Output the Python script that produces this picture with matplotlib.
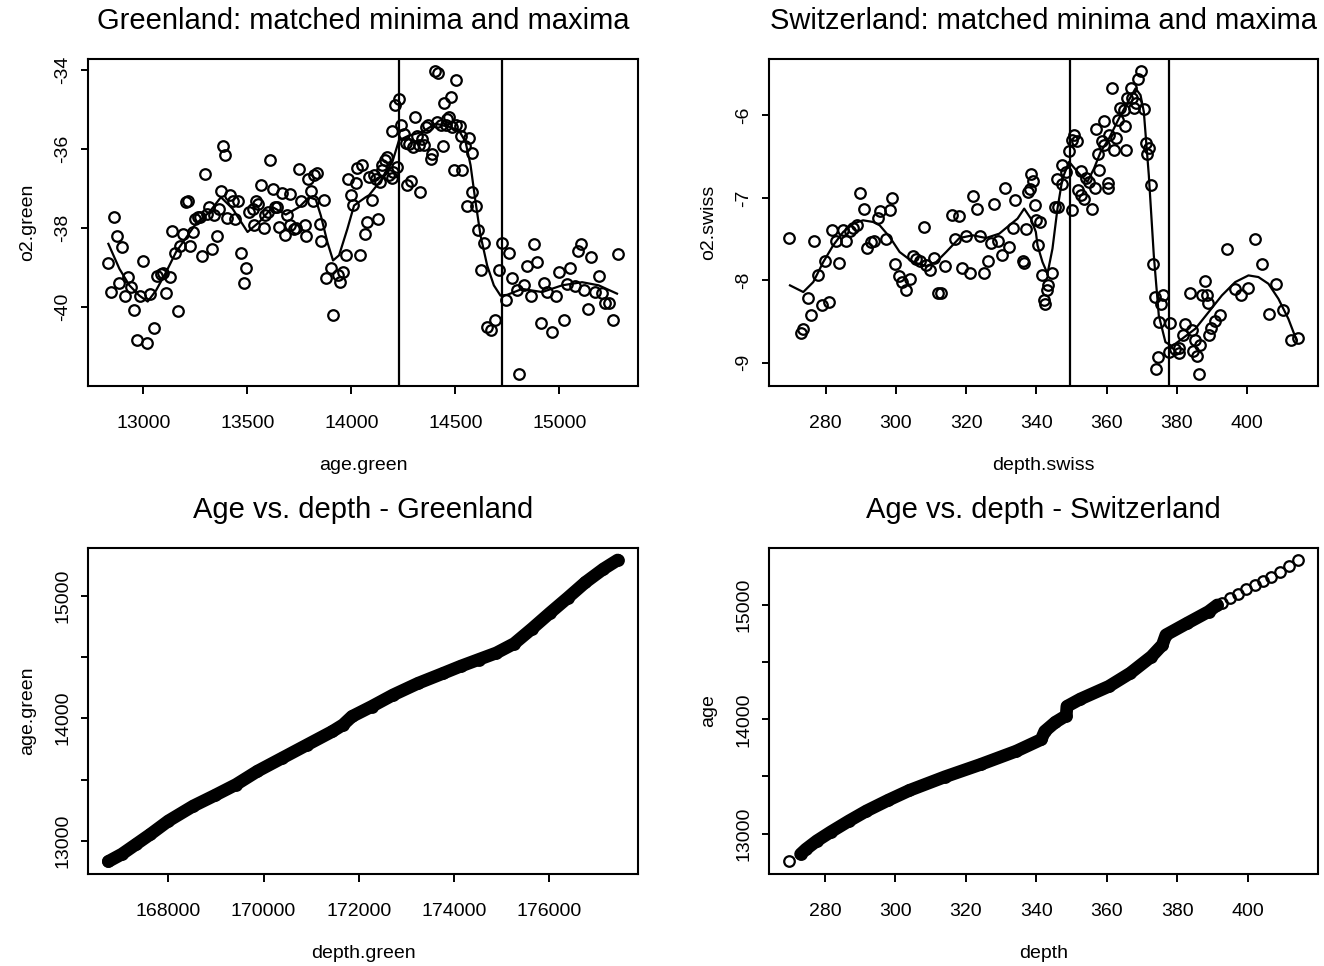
import numpy as np
import matplotlib
matplotlib.use("Agg")
import matplotlib.pyplot as plt

plt.rcParams['font.family'] = ['Liberation Sans', 'DejaVu Sans']
plt.rcParams['axes.xmargin'] = 0.04
plt.rcParams['axes.ymargin'] = 0.04

# ---------------- Greenland: oxygen isotope vs age ----------------
green_age = [12832, 12859, 12872, 12896, 12847, 12883, 12927, 12912, 12943, 12957,
             12970, 12984, 13018, 13000, 13034, 13051, 13067, 13083, 13096, 13111,
             13128, 13139, 13167, 13151, 13178, 13191, 13205, 13213, 13226, 13239,
             13247, 13263, 13274, 13283, 13295, 13304, 13315, 13330, 13341, 13352,
             13365, 13373, 13383, 13395, 13403, 13419, 13429, 13439, 13453, 13469,
             13495, 13483, 13509, 13525, 13541, 13533, 13551, 13567, 13579, 13586,
             13597, 13610, 13621, 13631, 13645, 13653, 13669, 13679, 13691, 13703,
             13704, 13722, 13733, 13746, 13757, 13775, 13781, 13792, 13807, 13821,
             13834, 13818, 13850, 13856, 13869, 13880, 13901, 13911, 13936, 13944,
             13959, 13975, 13984, 13999, 14010, 14021, 14029, 14051, 14043, 14066,
             14077, 14098, 14130, 14085, 14109, 14120, 14136, 14149, 14162, 14173,
             14146, 14181, 14194, 14200, 14221, 14194, 14210, 14229, 14237, 14253,
             14261, 14269, 14285, 14277, 14296, 14306, 14317, 14325, 14330, 14341,
             14349, 14357, 14370, 14381, 14389, 14400, 14418, 14413, 14429, 14442,
             14445, 14453, 14461, 14477, 14469, 14485, 14493, 14501, 14504, 14520,
             14525, 14533, 14544, 14565, 14578, 14581, 14554, 14600, 14608, 14637,
             14621, 14653, 14669, 14690, 14709, 14722, 14741, 14757, 14773, 14797,
             14829, 14845, 14864, 14877, 14893, 14912, 14925, 14941, 14965, 14986,
             15000, 15021, 15037, 15053, 15077, 15088, 15104, 15120, 15136, 15152,
             15170, 15189, 15205, 15218, 15237, 15258, 15280, 14808]
green_o2 = [-38.89, -37.73, -38.21, -38.49, -39.63, -39.40, -39.24, -39.72, -39.49, -40.08,
            -40.84, -39.73, -40.91, -38.85, -39.68, -40.54, -39.22, -39.17, -39.14, -39.65,
            -39.26, -38.08, -40.10, -38.64, -38.47, -38.16, -37.35, -37.33, -38.47, -38.11,
            -37.79, -37.72, -37.72, -38.71, -36.65, -37.65, -37.48, -38.54, -37.67, -38.22,
            -37.54, -37.07, -35.94, -36.17, -37.76, -37.18, -37.33, -37.79, -37.33, -38.64,
            -39.02, -39.40, -37.61, -37.54, -37.32, -37.94, -37.41, -36.91, -38.00, -37.69,
            -37.61, -36.30, -37.02, -37.48, -37.48, -37.99, -37.12, -38.18, -37.69, -37.14,
            -37.94, -38.03, -38.00, -36.51, -37.33, -37.94, -38.20, -36.78, -37.07, -36.68,
            -36.61, -37.32, -37.90, -38.34, -37.29, -39.27, -39.01, -40.21, -39.21, -39.38,
            -39.13, -38.69, -36.76, -37.17, -37.43, -36.86, -36.48, -36.42, -38.70, -38.15,
            -37.86, -37.31, -37.77, -36.72, -36.68, -36.76, -36.85, -36.42, -36.30, -36.21,
            -36.55, -36.68, -36.75, -36.59, -36.47, -35.56, -34.91, -34.74, -35.41, -35.62,
            -35.85, -36.93, -36.83, -35.88, -35.96, -35.20, -35.67, -35.92, -37.10, -35.75,
            -35.92, -35.45, -35.41, -36.26, -36.13, -34.04, -34.08, -35.33, -35.40, -35.94,
            -34.84, -35.41, -35.24, -34.69, -35.20, -35.45, -36.55, -35.41, -34.26, -35.43,
            -35.67, -36.55, -35.94, -35.73, -36.11, -37.10, -37.46, -37.44, -38.07, -38.38,
            -39.08, -40.52, -40.60, -40.33, -39.08, -38.38, -39.83, -38.64, -39.28, -39.59,
            -39.45, -38.98, -39.74, -38.42, -38.87, -40.42, -39.40, -39.63, -40.63, -39.73,
            -39.13, -40.33, -39.42, -39.01, -39.48, -38.60, -38.42, -39.59, -40.07, -38.75,
            -39.63, -39.23, -39.65, -39.91, -39.91, -40.33, -38.66, -41.70]

green_fit_age = [12832, 12885, 12933, 12981, 13021, 13061, 13109, 13157, 13205, 13253,
                 13317, 13373, 13429, 13501, 13557, 13621, 13685, 13749, 13797, 13829,
                 13853, 13885, 13912, 13941, 13981, 14013, 14069, 14085, 14149, 14197,
                 14229, 14277, 14341, 14405, 14469, 14517, 14549, 14573, 14597, 14621,
                 14653, 14685, 14717, 14749, 14821, 14917, 15013, 15109, 15189, 15277]
green_fit_o2 = [-38.41, -39.04, -39.46, -39.72, -39.87, -39.59, -39.13, -38.62, -38.26, -37.90,
                -37.61, -37.23, -37.52, -38.11, -37.86, -37.48, -37.67, -37.48, -37.23, -37.29,
                -37.69, -38.37, -38.83, -38.70, -38.03, -37.44, -37.23, -37.18, -36.76, -36.34,
                -35.79, -35.67, -35.58, -35.37, -35.45, -35.54, -35.83, -36.42, -37.35, -38.20,
                -38.96, -39.46, -39.72, -39.70, -39.55, -39.63, -39.46, -39.38, -39.46, -39.67]
green_marks = [14231, 14723]

# ---------------- Switzerland: oxygen isotope vs depth ----------------
swiss_depth = [269.68, 272.90, 273.65, 275.73, 274.88, 277.91, 278.85, 280.93, 279.80, 276.77,
               281.88, 283.01, 283.77, 285.00, 285.95, 286.89, 287.84, 288.97, 289.92, 290.96,
               291.81, 293.04, 293.70, 294.93, 295.59, 297.10, 298.24, 298.99, 299.85, 300.89,
               301.83, 302.78, 303.91, 304.86, 305.80, 306.75, 307.88, 308.45, 309.77, 310.91,
               312.04, 312.71, 314.03, 315.92, 316.87, 317.91, 318.85, 319.99, 321.12, 322.07,
               323.01, 323.96, 325.00, 326.13, 327.08, 328.02, 328.97, 330.11, 331.05, 332.09,
               333.23, 333.98, 336.06, 336.35, 337.01, 337.58, 338.14, 338.43, 339.09, 339.66,
               340.03, 340.60,
               340.99, 341.55, 344.58, 343.44, 342.88, 342.21, 342.50, 345.34, 346.28, 346.00,
               347.23, 347.42, 348.36, 349.31, 350.06, 350.73, 351.67, 350.06, 352.62, 351.95,
               352.62, 353.56, 354.22, 354.98, 355.93, 356.68, 357.82, 357.63, 356.87, 358.57,
               359.24, 359.24, 360.37, 360.47, 360.66, 361.60, 362.07, 362.73, 363.30, 363.68,
               364.91, 365.19, 365.57, 365.86, 366.80, 367.27, 367.75, 368.41, 368.88, 369.64,
               370.58, 371.06, 371.53, 372.19, 372.66, 373.14, 373.70, 375.60, 375.97, 375.03,
               374.65, 374.08, 378.15, 377.67, 379.57, 380.51, 380.70, 381.65, 382.40, 383.82,
               384.29, 384.48, 385.24, 385.71, 386.19, 386.66, 387.13, 387.89, 388.55, 388.83,
               389.02, 389.78, 390.91, 392.25, 394.32, 396.40, 398.20, 400.37, 402.26, 404.15,
               406.23, 408.12, 410.30, 412.47, 414.37]
swiss_o2 = [-7.488, -8.643, -8.598, -8.428, -8.213, -7.942, -8.298, -8.266, -7.767, -7.524,
            -7.394, -7.524, -7.792, -7.394, -7.524, -7.406, -7.366, -7.334, -6.936, -7.131,
            -7.609, -7.536, -7.524, -7.244, -7.163, -7.504, -7.143, -7.001, -7.800, -7.950,
            -8.023, -8.124, -7.990, -7.711, -7.739, -7.771, -7.354, -7.812, -7.873, -7.731,
            -8.152, -8.152, -7.828, -7.212, -7.496, -7.220, -7.852, -7.467, -7.913, -6.981,
            -7.139, -7.467, -7.909, -7.771, -7.548, -7.078, -7.524, -7.690, -6.875, -7.597,
            -7.362, -7.029, -7.771, -7.788, -7.374, -6.928, -6.888, -6.705, -6.798, -7.090,
            -7.265, -7.569,
            -7.293, -7.942, -7.909, -8.063, -8.124, -8.246, -8.286, -7.111, -7.111, -6.766,
            -6.604, -6.827, -6.685, -6.434, -6.300, -6.239, -6.312, -7.143, -6.677, -6.900,
            -6.969, -7.009, -6.758, -6.806, -7.131, -6.880, -6.665, -6.462, -6.166, -6.312,
            -6.069, -6.361, -6.819, -6.880, -6.239, -5.671, -6.421, -6.271, -6.057, -5.915,
            -5.935, -6.125, -6.413, -5.793, -5.671, -5.793, -5.907, -5.854, -5.558, -5.461,
            -5.923, -6.328, -6.462, -6.393, -6.847, -7.808, -8.205, -8.286, -8.185, -8.509,
            -8.927, -9.077, -8.521, -8.874, -8.834, -8.886, -8.825, -8.663, -8.529, -8.152,
            -8.610, -8.854, -8.732, -8.915, -9.138, -8.793, -8.185, -8.015, -8.185, -8.278,
            -8.663, -8.582, -8.497, -8.420, -7.625, -8.104, -8.177, -8.092, -7.496, -7.808,
            -8.416, -8.043, -8.367, -8.724, -8.704]

swiss_fit_depth = [269.87, 273.65, 276.49, 279.33, 282.16, 285.00, 287.84, 290.67, 293.51, 295.40,
                   298.24, 301.08, 304.86, 308.64, 311.48, 314.31, 318.10, 321.88, 325.66, 329.44,
                   332.28, 334.64, 336.53, 338.43, 339.85, 340.32, 341.74, 343.16, 344.58, 346.00,
                   347.42, 349.31, 352.14, 354.51, 356.40, 358.29, 360.66, 363.49, 366.33, 368.22,
                   369.64, 370.58, 372.00, 373.42, 374.84, 376.73, 378.62, 381.46, 385.24, 389.02,
                   392.80, 396.59, 400.37, 403.20, 406.04, 408.88, 411.72, 414.08]
swiss_fit_o2 = [-8.063, -8.144, -8.023, -7.780, -7.577, -7.415, -7.313, -7.273, -7.293, -7.334,
                -7.475, -7.658, -7.780, -7.828, -7.780, -7.658, -7.488, -7.455, -7.488, -7.435,
                -7.334, -7.252, -7.131, -7.252, -7.415, -7.577, -7.780, -7.921, -7.617, -7.131,
                -6.766, -6.563, -6.705, -6.806, -6.644, -6.442, -6.279, -6.036, -5.813, -5.671,
                -5.752, -5.955, -6.725, -7.698, -8.428, -8.752, -8.801, -8.712, -8.590, -8.388,
                -8.185, -8.023, -7.942, -7.962, -8.043, -8.225, -8.469, -8.732]
swiss_marks = [349.6, 377.7]

# ---------------- Age vs depth (Greenland): dense trace ----------------
green_depth_full = [166741, 167026, 167326, 167625, 168000, 168524, 168974, 169423, 169873, 170397,
                    170921, 171446, 171671, 171858, 172270, 172719, 173244, 173768, 174143, 174517,
                    174892, 175266, 175641, 176015, 176390, 176764, 177139, 177439]
green_age_full = [12832, 12892, 12973, 13054, 13162, 13284, 13370, 13459, 13568, 13676,
                  13784, 13892, 13946, 14014, 14095, 14189, 14284, 14365, 14424, 14478,
                  14532, 14608, 14730, 14857, 14981, 15108, 15216, 15289]

# ---------------- Age vs depth (Switzerland) ----------------
swiss_depth_dense = [273.1, 274.6, 277.7, 281.7, 286.8, 291.8, 297.9, 304.0, 314.1, 324.2,
                     334.3, 341.4, 342.4, 345.4, 348.5, 348.7, 352.5, 360.6, 366.7, 372.7,
                     375.8, 376.8, 382.8, 388.9, 391.4]
swiss_age_dense = [12820, 12863, 12936, 13015, 13110, 13198, 13291, 13378, 13497, 13605,
                   13721, 13823, 13895, 13974, 14032, 14113, 14177, 14288, 14404, 14549,
                   14651, 14738, 14840, 14942, 15000]
swiss_depth_sparse = [269.9, 392.6, 395.0, 397.3, 399.6, 402.0, 404.4, 406.7, 409.1, 411.7, 414.2]
swiss_age_sparse = [12756, 15020, 15058, 15096, 15137, 15174, 15212, 15247, 15285, 15340, 15393]

# ---------------- figure ----------------
W, H, DPI = 1324, 966, 100
fig = plt.figure(figsize=(W / DPI, H / DPI), dpi=DPI)
fig.patch.set_facecolor('white')


def rect(l, t, r, b):
    return [l / W, 1 - b / H, (r - l) / W, (b - t) / H]


ax_tl = fig.add_axes(rect(88, 59, 638, 386))
ax_tr = fig.add_axes(rect(769, 59, 1318, 386))
ax_bl = fig.add_axes(rect(88, 548, 638, 873.5))
ax_br = fig.add_axes(rect(769, 548, 1318, 873.5))

MS = 7.6
MEW = 1.6
LW = 1.6
BAND = MS + MEW
circ = dict(ls='none', marker='o', mfc='none', mec='black', ms=MS, mew=MEW)

# top-left
ax_tl.plot(green_age, green_o2, **circ)
ax_tl.plot(green_fit_age, green_fit_o2, color='black', lw=LW)
for v in green_marks:
    ax_tl.axvline(v, color='black', lw=LW)

# top-right
ax_tr.plot(swiss_depth, swiss_o2, **circ)
ax_tr.plot(swiss_fit_depth, swiss_fit_o2, color='black', lw=LW)
for v in swiss_marks:
    ax_tr.axvline(v, color='black', lw=LW)

# bottom-left (dense run of overlapping circles)
ax_bl.plot(green_depth_full, green_age_full, color='black', lw=BAND,
           solid_capstyle='round', solid_joinstyle='round')
ax_bl.plot(green_depth_full, green_age_full, **circ)

# bottom-right
ax_br.plot(swiss_depth_dense, swiss_age_dense, color='black', lw=BAND,
           solid_capstyle='round', solid_joinstyle='round')
ax_br.plot(swiss_depth_dense + swiss_depth_sparse, swiss_age_dense + swiss_age_sparse, **circ)


def style(ax, title, xlabel, ylabel, xticks, yticks, ylabels):
    for s in ax.spines.values():
        s.set_linewidth(1.5)
    ax.set_xticks(xticks, [str(t) for t in xticks])
    ax.set_yticks(yticks, ylabels, rotation=90, va='center')
    ax.tick_params(direction='out', length=5.4, width=1.4, labelsize=14, colors='black')
    ax.tick_params(axis='x', pad=15.5)
    ax.tick_params(axis='y', pad=6.5)
    ax.set_title(title, fontsize=21, pad=21.5)
    ax.set_xlabel(xlabel, fontsize=14, labelpad=18)
    ax.set_ylabel(ylabel, fontsize=14, labelpad=13)


style(ax_tl, 'Greenland: matched minima and maxima', 'age.green', 'o2.green',
      [13000, 13500, 14000, 14500, 15000], [-40, -38, -36, -34], ['-40', '-38', '-36', '-34'])
style(ax_tr, 'Switzerland: matched minima and maxima', 'depth.swiss', 'o2.swiss',
      [280, 300, 320, 340, 360, 380, 400], [-9, -8, -7, -6], ['-9', '-8', '-7', '-6'])
style(ax_bl, 'Age vs. depth - Greenland', 'depth.green', 'age.green',
      [168000, 170000, 172000, 174000, 176000],
      [13000, 13500, 14000, 14500, 15000], ['13000', '', '14000', '', '15000'])
style(ax_br, 'Age vs. depth - Switzerland', 'depth', 'age',
      [280, 300, 320, 340, 360, 380, 400],
      [13000, 13500, 14000, 14500, 15000], ['13000', '', '14000', '', '15000'])

fig.savefig('out.png', dpi=DPI)
